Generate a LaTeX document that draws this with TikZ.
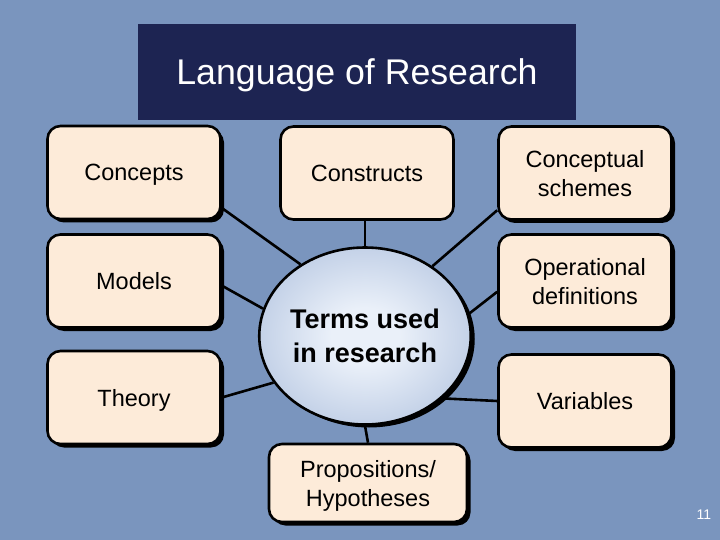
\documentclass[tikz,border=0pt]{standalone}
\usepackage{fontspec}
\setmainfont{Liberation Sans}
\usetikzlibrary{shadows,shapes.geometric,backgrounds}
\definecolor{slate}{HTML}{7A95BE}
\definecolor{navy}{HTML}{1D2452}
\definecolor{peach}{HTML}{FDEBD9}
\definecolor{hublight}{HTML}{EAF0F9}
\definecolor{hubdark}{HTML}{8CA5CE}
\pgfdeclareradialshading{hubglow}{\pgfpoint{0bp}{0bp}}{color(0bp)=(hublight); color(8bp)=(hublight); color(50bp)=(hubdark)}
\tikzset{
  termbox/.style={draw, line width=2.6pt, rounded corners=13pt, fill=peach,
    minimum width=173pt, minimum height=93pt, align=center, inner sep=0pt,
    text depth=0pt, font=\fontsize{23.5}{29}\selectfont},
  shadowed/.style={drop shadow={shadow xshift=3.5pt, shadow yshift=-3.5pt,
    fill=black, opacity=1}},
  spoke/.style={line width=2.6pt},
}

\begin{document}
\begin{tikzpicture}[x=1pt, y=-1pt]
  \useasboundingbox (0,0) rectangle (720,540);
  \begin{scope}[on background layer]
    \fill[slate] (0,0) rectangle (720,540);
  \end{scope}

  \node[fill=navy, minimum width=438pt, minimum height=96pt, inner sep=0pt, text depth=0pt,
        text=white, font=\fontsize{35.7}{40}\selectfont] (title) at (357,72) {Language of Research};

  \node[termbox, shadowed] (concepts) at (134,172.5) {Concepts};
  \node[termbox] (constructs) at (367,173) {Constructs};
  \node[termbox, shadowed] (schemes) at (585,173) {Conceptual\\schemes};
  \node[termbox, shadowed] (models) at (134,281) {Models};
  \node[termbox, shadowed] (operational) at (585,281) {Operational\\definitions};
  \node[termbox, shadowed] (theory) at (134,397.5) {Theory};
  \node[termbox, shadowed] (variables) at (585,401) {Variables};
  \node[termbox, shadowed, minimum width=198pt, minimum height=78pt] (props) at (368,483) {Propositions/\\Hypotheses};

  \node[ellipse, draw, line width=2.6pt, shading=hubglow, minimum width=197pt,
        minimum height=177pt, inner sep=0pt, align=center,
        font=\fontsize{27}{34}\selectfont\bfseries,
        drop shadow={shadow xshift=4pt, shadow yshift=-3pt, fill=black, opacity=1}]
        (hub) at (365,336) {Terms used\\in research};

  \node[text=white, font=\fontsize{14}{16}\selectfont] (page) at (704,515) {11};

  \begin{scope}[on background layer]
    \draw[spoke] (concepts.-22) -- (hub.132);
    \draw[spoke] (models.-3) -- (hub.165);
    \draw[spoke] (theory.east) -- (hub.207);
    \draw[spoke] (hub.90 |- constructs.south) -- (hub.90);
    \draw[spoke] (schemes.203) -- (hub.46);
    \draw[spoke] (operational.187) -- (hub.12);
    \draw[spoke] (variables.west) -- (hub.-39);
    \draw[spoke] (hub.270) -- (props.north);
  \end{scope}
\end{tikzpicture}
\end{document}
